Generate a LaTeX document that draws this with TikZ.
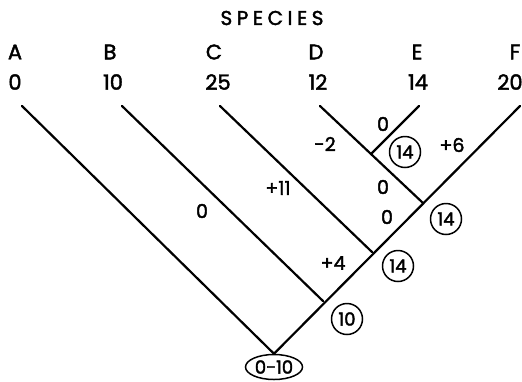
\documentclass[tikz,border=0pt]{standalone}
\usepackage{fontspec}
\setmainfont{Poppins}[FakeBold=2]
\usetikzlibrary{shapes.geometric}
\begin{document}
\begin{tikzpicture}[x=1pt,y=-1pt,
  branch/.style={line width=2.2pt,line cap=round},
  lbl/.style={inner sep=0pt,font=\fontsize{21}{21}\selectfont},
  tag/.style={inner sep=0pt,font=\fontsize{19}{19}\selectfont},
  sumcirc/.style={draw,circle,line width=1.5pt,minimum size=31pt,inner sep=0pt,font=\fontsize{18}{18}\selectfont},
  sumoval/.style={draw,ellipse,line width=1.5pt,minimum width=57pt,minimum height=25pt,inner sep=0pt,font=\fontsize{18}{18}\selectfont}]
\useasboundingbox (0,0) rectangle (522,381);

% heading, species names and their values
\node[inner sep=0pt,font=\fontsize{20}{20}\selectfont] (title) at (272,18) {S\kern4.5pt P\kern4.5pt E\kern4.5pt C\kern4.5pt I\kern4.5pt E\kern4.5pt S};
\node[lbl] (nA) at (15,52) {A};
\node[lbl] (nB) at (110,52) {B};
\node[lbl] (nC) at (214,52) {C};
\node[lbl] (nD) at (316,52) {D};
\node[lbl] (nE) at (417,52) {E};
\node[lbl] (nF) at (515,52) {F};
\node[lbl] (vA) at (15,82) {0};
\node[lbl] (vB) at (113,82) {10};
\node[lbl] (vC) at (218,82) {25};
\node[lbl] (vD) at (318,82) {12};
\node[lbl] (vE) at (418,82) {14};
\node[lbl] (vF) at (510,82) {20};

% branch tips
\coordinate (tA) at (22,106);
\coordinate (tB) at (122,106);
\coordinate (tC) at (220,106);
\coordinate (tD) at (320,106);
\coordinate (tE) at (419,106);
\coordinate (tF) at (520,106);

% ancestral value at the root
\node[sumoval] (rootval) at (274,367) {0-10};
\coordinate (root) at (rootval.north);

% branching points
\coordinate (jDE) at (371,154);
\coordinate (jF) at (423,203);
\coordinate (jC) at (372,252);
\coordinate (jB) at (323,301);

% tree
\draw[branch] (tA) -- (root);
\draw[branch] (tF) -- (root);
\draw[branch] (tB) -- (jB);
\draw[branch] (tC) -- (jC);
\draw[branch] (tD) -- (jF);
\draw[branch] (tE) -- (jDE);

% changes along branches
\node[tag] (cB) at (202,211) {0};
\node[tag] (cC) at (278,188) {+11};
\node[tag] (cD) at (325,144) {-2};
\node[tag] (cE) at (383,124) {0};
\node[tag] (cF) at (452,145) {+6};
\node[tag] (cDE) at (383,187) {0};
\node[tag] (cDEF) at (387,217) {0};
\node[tag] (cCDEF) at (333,263) {+4};

% reconstructed ancestral values
\node[sumcirc] (aDE) at (405,152) {14};
\node[sumcirc] (aDEF) at (446,219) {14};
\node[sumcirc] (aCDEF) at (398,266) {14};
\node[sumcirc] (aBCDEF) at (347,319) {10};
\end{tikzpicture}
\end{document}
